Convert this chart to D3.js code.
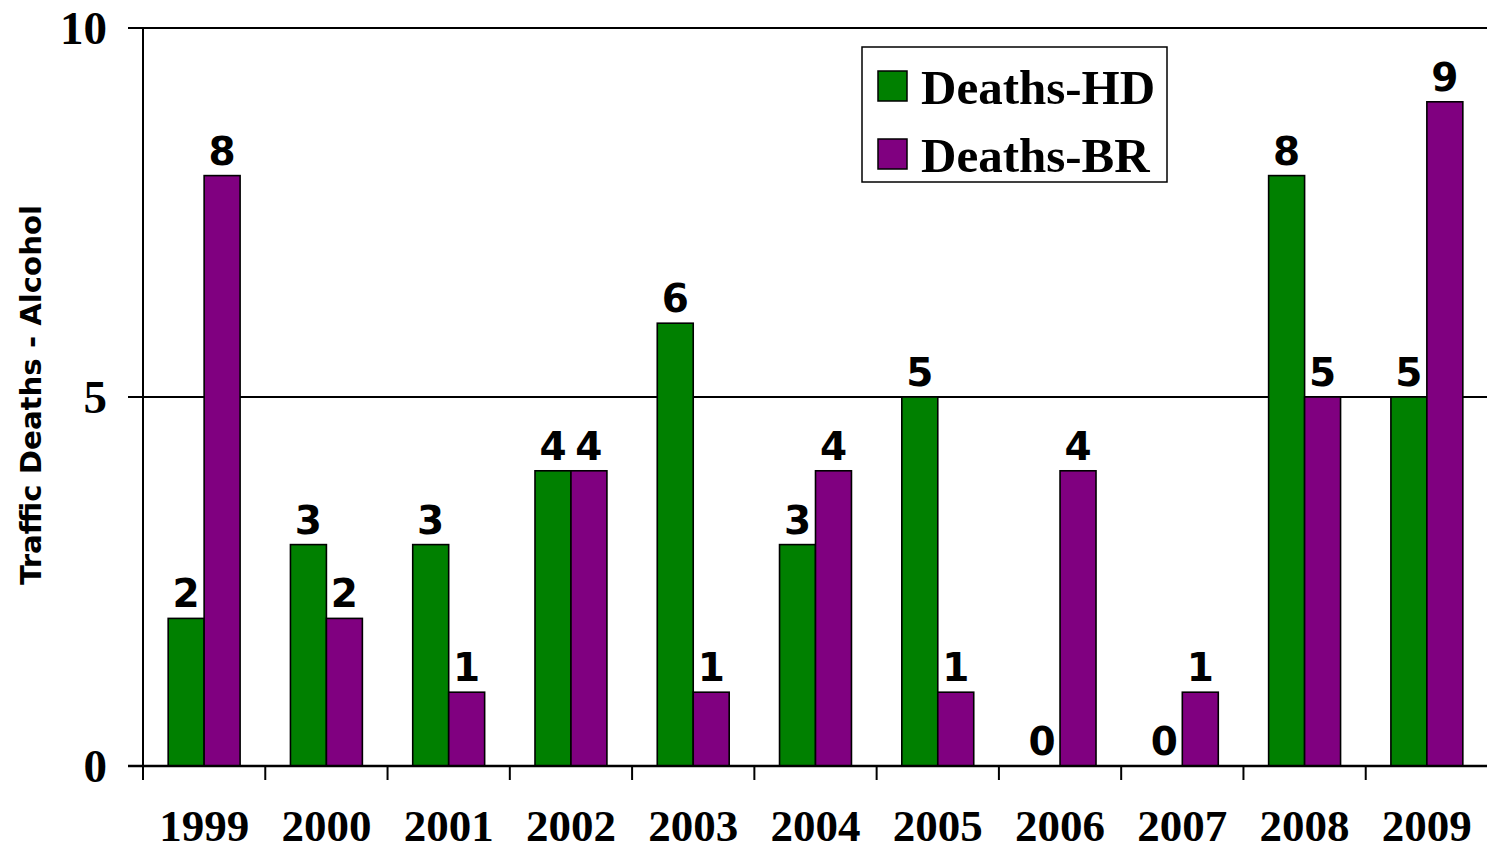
<!DOCTYPE html>
<html>
<head>
<meta charset="utf-8">
<script src="https://cdn.jsdelivr.net/npm/d3@7"></script>
<style>
  body { margin: 0; background: #fff; }
  svg { display: block; }
</style>
</head>
<body>
<div id="chart"></div>
<script>
var years = ["1999", "2000", "2001", "2002", "2003", "2004", "2005", "2006", "2007", "2008", "2009"];
var deathsHD = [2, 3, 3, 4, 6, 3, 5, 0, 0, 8, 5];
var deathsBR = [8, 2, 1, 4, 1, 4, 1, 4, 1, 5, 9];
var seriesNames = ["Deaths-HD", "Deaths-BR"];
var seriesColors = ["#008000", "#800080"];
var yTicks = [0, 5, 10];

var W = 1487, H = 851;
var margin = { top: 28, right: -1, bottom: 85, left: 143 };

var svg = d3.select("#chart").append("svg")
    .attr("width", W)
    .attr("height", H);

var x = d3.scaleBand()
    .domain(years)
    .range([margin.left, W - margin.right]);

var x1 = d3.scaleBand()
    .domain(seriesNames)
    .range([0, x.bandwidth()])
    .paddingOuter(0.7)
    .paddingInner(0);

var y = d3.scaleLinear()
    .domain([0, 10])
    .range([H - margin.bottom, margin.top]);

// gridlines (incl. left tick stubs)
svg.append("g")
    .selectAll("line")
    .data(yTicks)
    .enter().append("line")
    .attr("x1", margin.left - 15)
    .attr("x2", W)
    .attr("y1", function (d) { return y(d); })
    .attr("y2", function (d) { return y(d); })
    .attr("stroke", "#000")
    .attr("stroke-width", 2);

// y axis line
svg.append("line")
    .attr("x1", margin.left).attr("x2", margin.left)
    .attr("y1", y(10)).attr("y2", y(0) + 14)
    .attr("stroke", "#000")
    .attr("stroke-width", 2);

// y tick labels
svg.append("g")
    .selectAll("text")
    .data(yTicks)
    .enter().append("text")
    .attr("x", 107)
    .attr("y", function (d) { return y(d); })
    .attr("dy", "0.35em")
    .attr("text-anchor", "end")
    .attr("font-family", "'Liberation Serif', 'Times New Roman', serif")
    .attr("font-weight", "bold")
    .attr("font-size", "47px")
    .text(function (d) { return d; });

// x category boundary ticks
var bounds = years.map(function (d) { return x(d); });
svg.append("g")
    .selectAll("line")
    .data(bounds)
    .enter().append("line")
    .attr("x1", function (d) { return d; })
    .attr("x2", function (d) { return d; })
    .attr("y1", y(0))
    .attr("y2", y(0) + 14)
    .attr("stroke", "#000")
    .attr("stroke-width", 2);

// x labels
svg.append("g")
    .selectAll("text")
    .data(years)
    .enter().append("text")
    .attr("x", function (d) { return x(d) + x.bandwidth() / 2; })
    .attr("y", 841)
    .attr("text-anchor", "middle")
    .attr("font-family", "'Liberation Serif', 'Times New Roman', serif")
    .attr("font-weight", "bold")
    .attr("font-size", "45px")
    .text(function (d) { return d; });

// bars
var rows = years.map(function (yr, i) {
    return { year: yr, vals: [
        { key: seriesNames[0], v: deathsHD[i], c: seriesColors[0] },
        { key: seriesNames[1], v: deathsBR[i], c: seriesColors[1] }
    ] };
});

var groups = svg.append("g")
    .selectAll("g")
    .data(rows)
    .enter().append("g")
    .attr("transform", function (d) { return "translate(" + x(d.year) + ",0)"; });

groups.selectAll("rect")
    .data(function (d) { return d.vals.filter(function (e) { return e.v > 0; }); })
    .enter().append("rect")
    .attr("x", function (d) { return x1(d.key); })
    .attr("y", function (d) { return y(d.v); })
    .attr("width", x1.bandwidth())
    .attr("height", function (d) { return y(0) - y(d.v); })
    .style("fill", function (d) { return d.c; })
    .style("stroke", "#000")
    .style("stroke-width", 1.6);

groups.selectAll("text")
    .data(function (d) { return d.vals; })
    .enter().append("text")
    .attr("x", function (d) { return x1(d.key) + x1.bandwidth() / 2; })
    .attr("y", function (d) { return y(d.v) - 11; })
    .attr("text-anchor", "middle")
    .attr("font-family", "'DejaVu Sans', Verdana, sans-serif")
    .attr("font-weight", "bold")
    .attr("font-size", "39px")
    .text(function (d) { return d.v; });

// redraw zero baseline over bars
svg.append("line")
    .attr("x1", margin.left - 15).attr("x2", W)
    .attr("y1", y(0)).attr("y2", y(0))
    .attr("stroke", "#000")
    .attr("stroke-width", 2.5);

// y axis title
svg.append("text")
    .attr("transform", "translate(41," + 395 + ") rotate(-90)")
    .attr("text-anchor", "middle")
    .attr("font-family", "'DejaVu Sans', Verdana, sans-serif")
    .attr("font-weight", "bold")
    .attr("font-size", "28px")
    .attr("textLength", 380)
    .attr("lengthAdjust", "spacingAndGlyphs")
    .text("Traffic Deaths - Alcohol");

// legend
var legend = svg.append("g").attr("transform", "translate(862,47)");
legend.append("rect")
    .attr("width", 305)
    .attr("height", 135)
    .style("fill", "#fff")
    .style("stroke", "#000")
    .style("stroke-width", 1.5);

var items = legend.selectAll("g.item")
    .data(seriesNames)
    .enter().append("g")
    .attr("class", "item")
    .attr("transform", function (d, i) { return "translate(0," + (i * 68) + ")"; });

items.append("rect")
    .attr("x", 16)
    .attr("y", 24)
    .attr("width", 29)
    .attr("height", 30)
    .style("fill", function (d, i) { return seriesColors[i]; })
    .style("stroke", "#000")
    .style("stroke-width", 1.5);

items.append("text")
    .attr("x", 59)
    .attr("y", 57)
    .attr("font-family", "'Liberation Serif', 'Times New Roman', serif")
    .attr("font-weight", "bold")
    .attr("font-size", "49px")
    .text(function (d) { return d; });
</script>
</body>
</html>
